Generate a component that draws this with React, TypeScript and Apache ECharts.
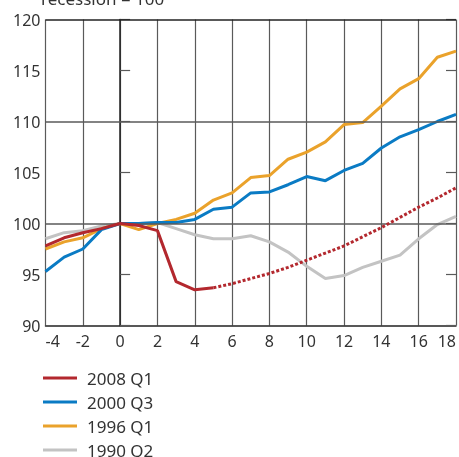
import React, { useEffect, useRef } from "react";
import * as echarts from "echarts";

const quarters = [-4, -3, -2, -1, 0, 1, 2, 3, 4, 5, 6, 7, 8, 9, 10, 11, 12, 13, 14, 15, 16, 17, 18];

// 2008 Q1: actual (up to quarter 5) and projection (dotted, from quarter 5)
const r2008Actual = [97.8, 98.6, 99.1, 99.5, 100, 99.8, 99.3, 94.3, 93.5, 93.7];
const r2008Projection = [93.7, 94.1, 94.6, 95.1, 95.7, 96.4, 97.1, 97.8, 98.7, 99.6, 100.6, 101.6, 102.5, 103.5];
const r2000 = [95.3, 96.7, 97.5, 99.4, 100, 100, 100.1, 100.1, 100.4, 101.4, 101.6, 103.0, 103.1, 103.8, 104.6, 104.2, 105.2, 105.9, 107.4, 108.5, 109.2, 110.0, 110.7];
const r1996 = [97.5, 98.2, 98.6, 99.5, 100, 99.4, 100.0, 100.4, 101.0, 102.3, 103.0, 104.5, 104.7, 106.3, 107.0, 108.0, 109.7, 109.9, 111.5, 113.2, 114.2, 116.3, 116.9];
const r1990 = [98.5, 99.1, 99.3, 99.75, 100, 100, 100.1, 99.5, 98.9, 98.5, 98.5, 98.8, 98.2, 97.2, 95.8, 94.6, 94.9, 95.7, 96.3, 96.9, 98.5, 99.9, 100.7];

const seriesNames = ["2008 Q1", "2000 Q3", "1996 Q1", "1990 Q2"];
const titleText = "recession = 100";

const FONT = "'Noto Sans', sans-serif";
const RED = "#b3282e";
const BLUE = "#0a7bc4";
const ORANGE = "#eaa22b";
const GRAY = "#c3c3c3";

function pairs(xs: number[], ys: number[], offset = 0) {
  return ys.map((v, i) => [xs[i + offset], v]);
}

export default function App() {
  const ref = useRef<HTMLDivElement>(null);
  useEffect(() => {
    if (!ref.current) return;
    const chart = echarts.init(ref.current, undefined, { renderer: "svg" });
    const gridCol = "#5a5a5a";
    const lineBase = { type: "line", symbol: "none", smooth: false, silent: true };
    chart.setOption({
      animation: false,
      textStyle: { fontFamily: FONT },
      grid: { left: 45.5, right: 0.5, top: 19.5, height: 306 },
      graphic: [
        {
          type: "text",
          left: 41,
          top: -10,
          style: { text: titleText, font: `17px ${FONT}`, fill: "#333" },
        },
      ],
      legend: {
        orient: "vertical",
        left: 38,
        top: 364,
        height: 120,
        icon: "rect",
        itemWidth: 34,
        itemHeight: 3,
        itemGap: 6,
        data: seriesNames,
        textStyle: { fontSize: 17, color: "#333", fontFamily: FONT, padding: [0, 0, 0, 5], lineHeight: 18 },
        selectedMode: false,
      },
      xAxis: {
        type: "value",
        min: -4,
        max: 18,
        interval: 2,
        axisLine: { show: true, lineStyle: { color: "#222", width: 1.5 } },
        axisTick: { show: false },
        axisLabel: { fontSize: 16, color: "#333", margin: 7, alignMinLabel: "left", alignMaxLabel: "right", fontFamily: FONT },
        splitLine: { show: true, lineStyle: { color: gridCol, width: 1.2 } },
      },
      yAxis: [
        {
          type: "value",
          min: 90,
          max: 120,
          interval: 5,
          axisLine: { show: true, lineStyle: { color: "#222", width: 1.5 } },
          axisTick: { show: true, inside: true, length: 10, lineStyle: { color: gridCol, width: 1.2 } },
          axisLabel: { fontSize: 16, color: "#333", margin: 5, fontFamily: FONT },
          splitLine: { show: false },
        },
        {
          type: "value",
          min: 90,
          max: 120,
          interval: 5,
          position: "right",
          axisLine: { show: false },
          axisTick: { show: true, inside: true, length: 10, lineStyle: { color: gridCol, width: 1.2 } },
          axisLabel: { show: false },
          splitLine: { show: false },
        },
      ],
      series: [
        {
          ...lineBase,
          name: "1990 Q2",
          data: pairs(quarters, r1990),
          lineStyle: { color: GRAY, width: 3 },
          itemStyle: { color: GRAY },
          z: 2,
          markLine: {
            silent: true,
            symbol: "none",
            label: { show: false },
            lineStyle: { color: gridCol, width: 1.5, type: "solid" },
            data: [{ yAxis: 100 }, { yAxis: 110 }, { yAxis: 120, lineStyle: { color: "#222", width: 1.5, type: "solid" } }],
          },
        },
        {
          ...lineBase,
          name: "1996 Q1",
          data: pairs(quarters, r1996),
          lineStyle: { color: ORANGE, width: 3 },
          itemStyle: { color: ORANGE },
          z: 3,
        },
        {
          ...lineBase,
          name: "2000 Q3",
          data: pairs(quarters, r2000),
          lineStyle: { color: BLUE, width: 3 },
          itemStyle: { color: BLUE },
          z: 4,
        },
        {
          ...lineBase,
          name: "2008 Q1",
          data: pairs(quarters, r2008Actual),
          lineStyle: { color: RED, width: 3 },
          itemStyle: { color: RED },
          z: 5,
        },
        {
          ...lineBase,
          name: "2008 Q1 projection",
          data: pairs(quarters, r2008Projection, 9),
          lineStyle: { color: RED, width: 3, type: [3, 2] },
          itemStyle: { color: RED },
          z: 5,
        },
      ],
    });
    return () => chart.dispose();
  }, []);
  return <div ref={ref} style={{ position: "fixed", left: 0, top: 0, width: 459, height: 500 }} />;
}
